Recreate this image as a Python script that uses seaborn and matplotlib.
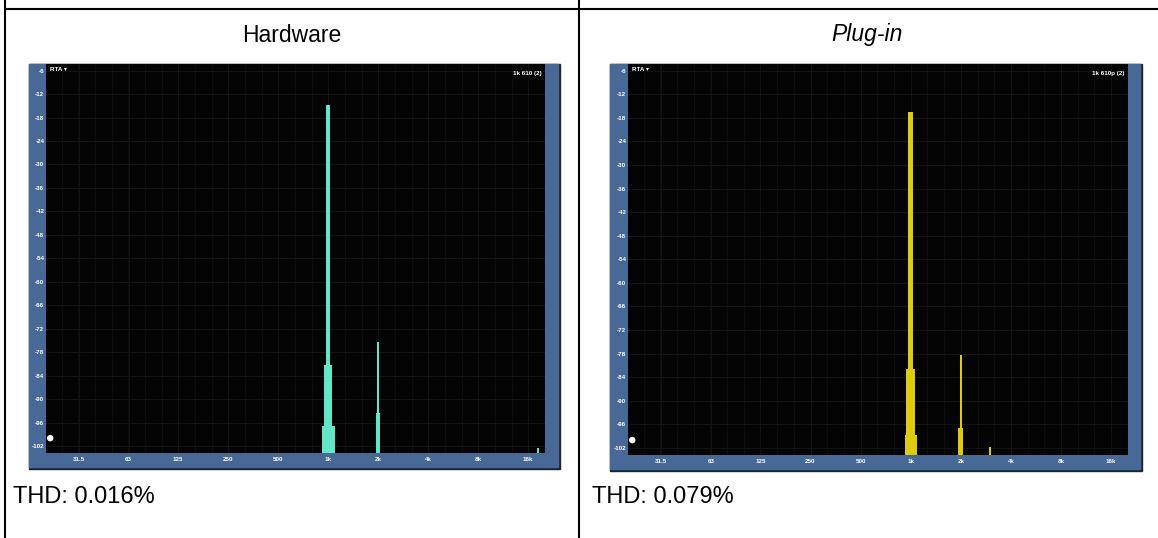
import numpy as np
import matplotlib
matplotlib.use("Agg")
import matplotlib.pyplot as plt
import matplotlib.ticker as mticker
from matplotlib.lines import Line2D
from matplotlib.patches import Rectangle
import seaborn as sns

# RTA readings: bar centre (Hz), top of bar (dB), bin width (octaves)
hw_freq = [1000, 1000, 1000, 2000, 2000, 18400]
hw_level = [-97.0, -81.3, -14.8, -93.6, -75.5, -102.6]
hw_width = [0.26, 0.17, 0.08, 0.09, 0.045, 0.04]

pl_freq = [1000, 1000, 1000, 2000, 2000, 3000]
pl_level = [-98.7, -82.0, -16.5, -96.9, -78.3, -101.8]
pl_width = [0.24, 0.18, 0.09, 0.10, 0.045, 0.04]

freq_ticks = [31.5, 63, 125, 250, 500, 1000, 2000, 4000, 8000, 16000]
freq_labels = ['31.5', '63', '125', '250', '500', '1k', '2k', '4k', '8k', '16k']
db_ticks = list(range(-6, -103, -6))

marker_freq = 21.2
marker_level = -100

titles = ['Hardware', 'Plug-in']
thd_text = ['THD: 0.016%', 'THD: 0.079%']
readout = ['1k 610 (2)', '1k 610p (2)']

sns.set_theme(style='dark')
plt.rcParams['font.family'] = ['Liberation Sans', 'DejaVu Sans']
plt.rcParams['text.color'] = 'black'

W, H = 1158, 538
fig = plt.figure(figsize=(W / 100, H / 100), dpi=100, facecolor='white')


def rect(x0, y0, x1, y1):
    # pixel box (top-left origin) -> figure fraction
    return [x0 / W, 1 - y1 / H, (x1 - x0) / W, (y1 - y0) / H]


def draw_panel(black, blue, freq, level, width, color, tag):
    bx = rect(*blue)
    # dark rim + blue analyser frame
    fig.add_artist(Rectangle((bx[0], bx[1] - 2 / H), bx[2] + 2 / W, bx[3] + 2 / H,
                             transform=fig.transFigure, color='#1b2437', zorder=0))
    fig.add_artist(Rectangle((bx[0], bx[1]), bx[2], bx[3],
                             transform=fig.transFigure, color='#486895', zorder=0))
    ax = fig.add_axes(rect(*black))
    ax.set_facecolor('#040404')

    f = np.array(freq, dtype=float)
    w = np.array(width)
    lv = np.array(level)
    left = f * 2 ** (-w / 2)
    right = f * 2 ** (w / 2)
    floor = -110
    ax.bar(left, lv - floor, width=right - left, bottom=floor, align='edge',
           color=color, linewidth=0, zorder=3)

    sns.scatterplot(x=[marker_freq], y=[marker_level], ax=ax, color='white',
                    s=22, marker='o', edgecolor='none', zorder=4, clip_on=False)

    ax.set_xscale('log')
    ax.set_xlim(20, 20200)
    ax.set_ylim(-103.8, -4.3)
    ax.set_xticks(freq_ticks)
    ax.set_xticklabels(freq_labels)
    ax.xaxis.set_minor_locator(mticker.FixedLocator(1000 * 2 ** (np.arange(-30, 15) / 3)))
    ax.xaxis.set_minor_formatter(mticker.NullFormatter())
    ax.set_yticks(db_ticks)
    ax.set_yticklabels([str(t) for t in db_ticks])
    ax.grid(True, which='major', color='#141414', lw=0.7)
    ax.grid(True, which='minor', axis='x', color='#0f0f0f', lw=0.6)
    ax.tick_params(which='both', length=0, colors='white', labelsize=4.5)
    ax.tick_params(axis='x', pad=3)
    ax.tick_params(axis='y', pad=1.2)
    for lab in ax.get_xticklabels() + ax.get_yticklabels():
        lab.set_fontweight('bold')
    for s in ax.spines.values():
        s.set_visible(False)
    ax.set_xlabel('')
    ax.set_ylabel('')
    ax.text(0.008, 0.985, 'RTA \u25be', transform=ax.transAxes, color='white',
            fontsize=4.5, fontweight='bold', va='center', ha='left')
    ax.text(0.994, 0.975, tag, transform=ax.transAxes, color='white',
            fontsize=4.5, fontweight='bold', va='center', ha='right')
    return ax


draw_panel((46, 64, 545, 453), (29, 64, 558, 467), hw_freq, hw_level, hw_width,
           '#63e6c7', readout[0])
draw_panel((628, 64, 1128, 455), (610, 64, 1140, 469), pl_freq, pl_level, pl_width,
           '#dccb0e', readout[1])

# table grid
lw = 1.5
fig.add_artist(Line2D([5 / W, 5 / W], [0, 1], color='black', lw=lw))
fig.add_artist(Line2D([579 / W, 579 / W], [0, 1], color='black', lw=lw))
fig.add_artist(Line2D([5 / W, 1], [1 - 9 / H, 1 - 9 / H], color='black', lw=lw))

fig.text(292 / W, 1 - 35 / H, titles[0], ha='center', va='center', fontsize=16.5)
fig.text(867 / W, 1 - 35 / H, titles[1], ha='center', va='center', fontsize=16.5,
         style='italic')
fig.text(13 / W, 1 - 497 / H, thd_text[0], ha='left', va='center', fontsize=17)
fig.text(592 / W, 1 - 497 / H, thd_text[1], ha='left', va='center', fontsize=17)

fig.savefig('out.png', dpi=100, facecolor='white')
